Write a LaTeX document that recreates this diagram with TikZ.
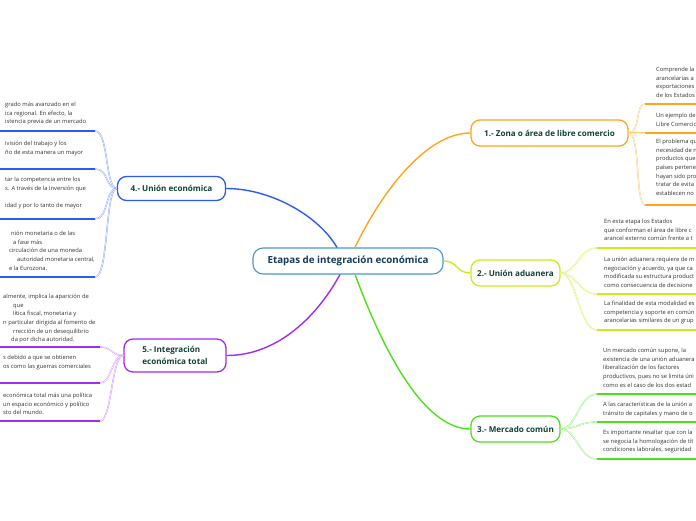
\documentclass[tikz,border=0pt]{standalone}
\usepackage{fontspec}
\setmainfont{Open Sans}
\definecolor{corg}{HTML}{FFA41B}
\definecolor{cyel}{HTML}{CBEB1A}
\definecolor{cgrn}{HTML}{4CE21B}
\definecolor{cblu}{HTML}{2B5CF5}
\definecolor{cpur}{HTML}{A12BF0}
\definecolor{ccen}{HTML}{4A98D3}
\definecolor{ctxt}{HTML}{333333}
\definecolor{ctit}{HTML}{183B5A}
\definecolor{cnode}{HTML}{0F4336}
\begin{document}
\begin{tikzpicture}[x=1pt,y=-1pt,
  mainbox/.style={draw, line width=1.3pt, rounded corners=9pt, fill=white, inner sep=0pt,
    minimum height=26pt, text=cnode, font=\fontsize{8.1}{11.5}\selectfont\bfseries},
  centbox/.style={draw=ccen, line width=1.1pt, rounded corners=10pt, fill=white, inner sep=0pt,
    minimum width=190pt, minimum height=26pt, text=ctit, font=\fontsize{9.8}{12}\selectfont\bfseries},
  leaftext/.style={inner sep=0pt, align=left, text=ctxt, anchor=north west,
    font=\fontsize{5.8}{8.6}\selectfont},
  uline/.style={line width=1.8pt},
  branch/.style={line width=1.4pt},
  twig/.style={line width=0.45pt, double=white, double distance=0.5pt}]
\useasboundingbox (0,0) rectangle (696,520);
\fill[white] (0,0) rectangle (696,520);

% central and main nodes
\node[centbox] (cen) at (348,261) {Etapas de integración económica};
\node[mainbox, draw=corg, minimum width=157pt] (n1) at (549.5,133) {1.- Zona o área de libre comercio};
\node[mainbox, draw=cyel, minimum width=89pt] (n2) at (515.5,273) {2.- Unión aduanera};
\node[mainbox, draw=cgrn, minimum width=89pt] (n3) at (515.5,429) {3.- Mercado común};
\node[mainbox, draw=cblu, minimum width=108pt, minimum height=24pt] (n4) at (171.5,188.5) {4.- Unión económica};
\node[mainbox, draw=cpur, minimum width=102pt, minimum height=33pt, align=left] (n5) at (175,355.5) {5.- Integración\\económica total};

% main connectors
\coordinate (c4) at ([xshift=-11pt]cen.north);
\coordinate (c1) at ([xshift=7pt]cen.north);
\coordinate (c3) at ([xshift=7pt]cen.south);
\coordinate (c5) at ([xshift=-8pt]cen.south);
\draw[branch,cblu] (c4) .. controls (318,215) and (270,188.5) .. (n4.east);
\draw[branch,corg] (c1) .. controls (380,195) and (425,133) .. (n1.west);
\draw[branch,cyel] (cen.east) .. controls (458,261) and (456,273) .. (n2.west);
\draw[branch,cgrn] (c3) .. controls (385,355) and (425,429) .. (n3.west);
\draw[branch,cpur] (c5) .. controls (315,320) and (275,355.5) .. (n5.east);

% ---------- orange leaves ----------
\node[leaftext] (t1a) at (656,67) {Comprende la\\arancelarias a\\exportaciones\\de los Estados};
\node[leaftext] (t1b) at (656,113) {Un ejemplo de\\Libre Comercio};
\node[leaftext] (t1c) at (656,139) {El problema qu\\necesidad de n\\productos que\\países pertene\\hayan sido pro\\tratar de evita\\establecen no};
\coordinate (u1a) at (645,104); \coordinate (e1a) at (700,104);
\coordinate (u1b) at (645,133); \coordinate (e1b) at (700,133);
\coordinate (u1c) at (645,205); \coordinate (e1c) at (700,205);
\foreach \u/\e in {u1a/e1a,u1b/e1b,u1c/e1c}{
  \draw[twig,draw=corg!60] (n1.east) .. controls ([xshift=12pt]n1.east) and ([xshift=-10pt]\u) .. (\u);
  \draw[uline,corg] (\u) -- (\e);}

% ---------- yellow leaves ----------
\node[leaftext] (t2a) at (604,219) {En esta etapa los Estados\\que conforman el área de libre c\\arancel externo común frente a t};
\node[leaftext] (t2b) at (604,257) {La unión aduanera requiere de m\\negociación y acuerdo, ya que ca\\modificada su estructura product\\como consecuencia de decisione};
\node[leaftext] (t2c) at (604,301) {La finalidad de esta modalidad es\\competencia y soporte en común\\arancelarias similares de un grup};
\coordinate (u2a) at (597,248); \coordinate (e2a) at (700,248);
\coordinate (u2b) at (597,294); \coordinate (e2b) at (700,294);
\coordinate (u2c) at (597,330); \coordinate (e2c) at (700,330);
\foreach \u/\e in {u2a/e2a,u2b/e2b,u2c/e2c}{
  \draw[twig,draw=cyel!70] (n2.east) .. controls ([xshift=16pt]n2.east) and ([xshift=-18pt]\u) .. (\u);
  \draw[uline,cyel] (\u) -- (\e);}

% ---------- green leaves ----------
\node[leaftext] (t3a) at (603,348) {Un mercado común supone, la\\existencia de una unión aduanera\\liberalización de los factores\\productivos, pues no se limita úni\\como es el caso de los dos estad};
\node[leaftext] (t3b) at (603,402) {A las características de la unión a\\tránsito de capitales y mano de o};
\node[leaftext] (t3c) at (603,430) {Es importante resaltar que con la\\se negocia la homologación de tít\\condiciones laborales, seguridad};
\coordinate (u3a) at (597,394); \coordinate (e3a) at (700,394);
\coordinate (u3b) at (597,422); \coordinate (e3b) at (700,422);
\coordinate (u3c) at (597,459); \coordinate (e3c) at (700,459);
\foreach \u/\e in {u3a/e3a,u3b/e3b,u3c/e3c}{
  \draw[twig,draw=cgrn!60] (n3.east) .. controls ([xshift=16pt]n3.east) and ([xshift=-18pt]\u) .. (\u);
  \draw[uline,cgrn] (\u) -- (\e);}

% ---------- blue leaves ----------
\node[leaftext] (t4a) at (5,102) {grado más avanzado en el\\ica regional. En efecto, la\\istencia previa de un mercado};
\node[leaftext] (t4b) at (5,141) {ivisión del trabajo y los\\ño de esta manera un mayor};
\node[leaftext] (t4c) at (5,177) {tar la competencia entre los\\s. A través de la inversión que\\[8.6pt]idad y por lo tanto de mayor};
\node[leaftext] (t4d) at (5,231) {\hspace*{6pt}nión monetaria o de las\\\hspace*{8pt}a fase más\\\hspace*{4pt}circulación de una moneda\\\hspace*{12pt}autoridad monetaria central,\\\hspace*{4pt}e la Eurozona.};
\coordinate (u4a) at (95,131); \coordinate (e4a) at (-5,131);
\coordinate (u4b) at (95,169); \coordinate (e4b) at (-5,169);
\coordinate (u4c) at (95,219); \coordinate (e4c) at (-5,219);
\coordinate (u4d) at (95,277); \coordinate (e4d) at (-5,277);
\foreach \u/\e in {u4a/e4a,u4b/e4b,u4c/e4c,u4d/e4d}{
  \draw[twig,draw=cblu!55] (n4.west) .. controls ([xshift=-12pt]n4.west) and ([xshift=14pt]\u) .. (\u);
  \draw[uline,cblu] (\u) -- (\e);}

% ---------- purple leaves ----------
\node[leaftext] (t5a) at (3,294) {almente, implica la aparición de\\\hspace*{10pt}que\\\hspace*{10pt}lítica fiscal, monetaria y\\n particular dirigida al fomento de\\\hspace*{10pt}rrección de un desequilibrio\\\hspace*{8pt}da por dicha autoridad.};
\node[leaftext] (t5b) at (3,355) {s debido a que se obtienen\\os como las guerras comerciales};
\node[leaftext] (t5c) at (3,393) {económica total más una política\\un espacio económico y político\\sto del mundo.};
\coordinate (u5a) at (100,347); \coordinate (e5a) at (-5,347);
\coordinate (u5b) at (100,383); \coordinate (e5b) at (-5,383);
\coordinate (u5c) at (100,421); \coordinate (e5c) at (-5,421);
\foreach \u/\e in {u5a/e5a,u5b/e5b,u5c/e5c}{
  \draw[twig,draw=cpur!50] (n5.west) .. controls ([xshift=-12pt]n5.west) and ([xshift=12pt]\u) .. (\u);
  \draw[uline,cpur] (\u) -- (\e);}
\end{tikzpicture}
\end{document}
